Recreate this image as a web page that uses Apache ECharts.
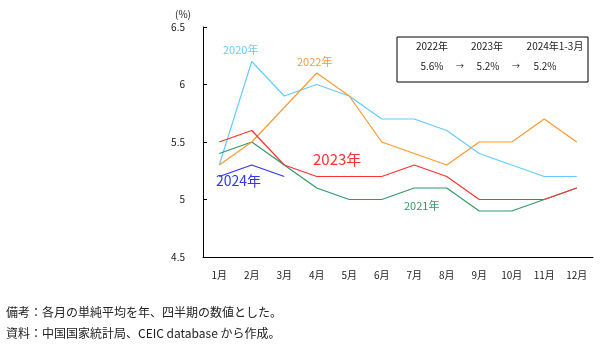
<!DOCTYPE html>
<html>
<head>
<meta charset="utf-8">
<script src="https://cdn.jsdelivr.net/npm/echarts@6/dist/echarts.min.js"></script>
<style>
  html, body { margin: 0; padding: 0; background: #fff; }
  #main { width: 602px; height: 350px; }
</style>
</head>
<body>
<div id="main"></div>
<script>
// 月ラベル
var months = ['1月', '2月', '3月', '4月', '5月', '6月', '7月', '8月', '9月', '10月', '11月', '12月'];
// 各年の月次値（%）
var y2020 = [5.3, 6.2, 5.9, 6.0, 5.9, 5.7, 5.7, 5.6, 5.4, 5.3, 5.2, 5.2];
var y2021 = [5.4, 5.5, 5.3, 5.1, 5.0, 5.0, 5.1, 5.1, 4.9, 4.9, 5.0, 5.1];
var y2022 = [5.3, 5.5, 5.8, 6.1, 5.9, 5.5, 5.4, 5.3, 5.5, 5.5, 5.7, 5.5];
var y2023 = [5.5, 5.6, 5.3, 5.2, 5.2, 5.2, 5.3, 5.2, 5.0, 5.0, 5.0, 5.1];
var y2024 = [5.2, 5.3, 5.2];
// 年平均ボックス
var boxYears = ['2022年', '2023年', '2024年1-3月'];
var boxValues = ['5.6%', '5.2%', '5.2%'];

var font = '"Noto Sans CJK JP", "Noto Sans", sans-serif';
var chart = echarts.init(document.getElementById('main'));

function line(name, data, color) {
  return {
    name: name,
    type: 'line',
    data: data,
    symbol: 'none',
    lineStyle: { color: color, width: 1.2 },
    itemStyle: { color: color },
    animation: false
  };
}

var option = {
  backgroundColor: '#fff',
  textStyle: { fontFamily: font },
  grid: { left: 203, right: 9, top: 27, bottom: 93 },
  xAxis: {
    type: 'category',
    data: months,
    boundaryGap: true,
    axisLine: { lineStyle: { color: '#000', width: 1 } },
    axisTick: { inside: true, length: 4, lineStyle: { color: '#000' } },
    axisLabel: { color: '#222', fontSize: 10, margin: 13, fontFamily: font }
  },
  yAxis: {
    type: 'value',
    min: 4.5,
    max: 6.5,
    interval: 0.5,
    name: '(%)',
    nameLocation: 'end',
    nameGap: 8,
    nameTextStyle: { color: '#222', fontSize: 10, align: 'right', padding: [0, 12, 0, 0], fontFamily: font },
    splitLine: { show: false },
    axisLine: { show: true, lineStyle: { color: '#000', width: 1 } },
    axisTick: { show: true, inside: true, length: 4, lineStyle: { color: '#000' } },
    axisLabel: { color: '#222', fontSize: 10, margin: 18, fontFamily: font }
  },
  series: [
    line('2020年', y2020, '#66CCFF'),
    line('2021年', y2021, '#339966'),
    line('2022年', y2022, '#FF9933'),
    line('2023年', y2023, '#FF3333'),
    line('2024年', y2024, '#3333FF')
  ],
  graphic: [
    { type: 'text', left: 223, top: 44, style: { text: '2020年', fill: '#66CCFF', font: '11px ' + font } },
    { type: 'text', left: 297, top: 56, style: { text: '2022年', fill: '#FF9933', font: '11px ' + font } },
    { type: 'text', left: 313, top: 152, style: { text: '2023年', fill: '#FF3333', font: '15px ' + font } },
    { type: 'text', left: 216, top: 174, style: { text: '2024年', fill: '#3333FF', font: '14px ' + font } },
    { type: 'text', left: 404, top: 200, style: { text: '2021年', fill: '#339966', font: '11px ' + font } },
    { type: 'rect', shape: { x: 397, y: 37, width: 191, height: 45 }, style: { fill: '#fff', stroke: '#000', lineWidth: 1 } },
    { type: 'text', x: 432, y: 46, style: { text: boxYears[0], fill: '#222', font: '10px ' + font, align: 'center', verticalAlign: 'middle' } },
    { type: 'text', x: 487, y: 46, style: { text: boxYears[1], fill: '#222', font: '10px ' + font, align: 'center', verticalAlign: 'middle' } },
    { type: 'text', x: 555, y: 46, style: { text: boxYears[2], fill: '#222', font: '10px ' + font, align: 'center', verticalAlign: 'middle' } },
    { type: 'text', x: 432, y: 66, style: { text: boxValues[0], fill: '#222', font: '10px ' + font, align: 'center', verticalAlign: 'middle' } },
    { type: 'text', x: 460, y: 66, style: { text: '→', fill: '#222', font: '8px ' + font, align: 'center', verticalAlign: 'middle' } },
    { type: 'text', x: 488, y: 66, style: { text: boxValues[1], fill: '#222', font: '10px ' + font, align: 'center', verticalAlign: 'middle' } },
    { type: 'text', x: 516, y: 66, style: { text: '→', fill: '#222', font: '8px ' + font, align: 'center', verticalAlign: 'middle' } },
    { type: 'text', x: 545, y: 66, style: { text: boxValues[2], fill: '#222', font: '10px ' + font, align: 'center', verticalAlign: 'middle' } },
    { type: 'text', left: 6, top: 306, style: { text: '備考：各月の単純平均を年、四半期の数値とした。', fill: '#222', font: '12px ' + font } },
    { type: 'text', left: 6, top: 327, style: { text: '資料：中国国家統計局、CEIC database から作成。', fill: '#222', font: '12px ' + font } }
  ]
};
chart.setOption(option);
</script>
</body>
</html>
